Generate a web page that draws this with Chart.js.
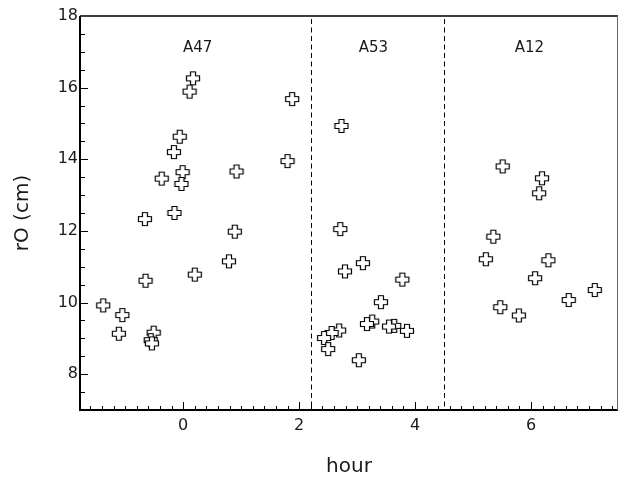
<!DOCTYPE html>
<html>
<head>
<meta charset="utf-8">
<script src="https://cdn.jsdelivr.net/npm/chart.js@4/dist/chart.umd.min.js"></script>
<style>
  html, body { margin: 0; padding: 0; background: #fff; }
  canvas { display: block; }
</style>
</head>
<body>
<canvas id="chart" width="619" height="477"></canvas>
<script>
// r0 measurements against hour, grouped by run
const a47Hours = [0.17, 0.11, 1.88, -0.06, -0.16, -0.01, -0.03, -0.37, 0.92, 1.80, -0.15, -0.66, 0.89, 0.79, 0.20, -0.65, -1.38, -1.05, -1.11, -0.51, -0.56, -0.54];
const a47R0 = [16.26, 15.89, 15.68, 14.63, 14.20, 13.64, 13.31, 13.46, 13.66, 13.95, 12.50, 12.33, 11.98, 11.15, 10.78, 10.61, 9.92, 9.65, 9.13, 9.16, 8.95, 8.86];

const a53Hours = [2.73, 2.71, 3.10, 2.79, 3.78, 3.41, 3.26, 3.17, 3.64, 3.55, 3.86, 2.69, 2.56, 2.43, 2.50, 3.03];
const a53R0 = [14.93, 12.05, 11.10, 10.87, 10.64, 10.01, 9.47, 9.40, 9.35, 9.33, 9.21, 9.22, 9.15, 9.01, 8.70, 8.39];

const a12Hours = [5.51, 6.19, 6.14, 5.35, 5.22, 6.30, 6.07, 7.10, 6.65, 5.47, 5.79];
const a12R0 = [13.80, 13.47, 13.05, 11.84, 11.21, 11.18, 10.68, 10.35, 10.07, 9.87, 9.64];

const groupNames = ['A47', 'A53', 'A12'];
const groupLabelHours = [0.25, 3.28, 5.97];
const groupLabelR0 = 17.11;
const groupBoundaries = [2.2, 4.5];

const xTicks = [0, 2, 4, 6];
const yTicks = [8, 10, 12, 14, 16, 18];

const FONT = '"DejaVu Sans", Verdana, sans-serif';
const INK = '#1a1a1a';

// outlined plus marker, white inside
function makePlus() {
  const c = document.createElement('canvas');
  c.width = 16; c.height = 16;
  const g = c.getContext('2d');
  const m = 8, L = 6.5, W = 2.5;
  g.beginPath();
  g.moveTo(m - W, m - L); g.lineTo(m + W, m - L); g.lineTo(m + W, m - W);
  g.lineTo(m + L, m - W); g.lineTo(m + L, m + W); g.lineTo(m + W, m + W);
  g.lineTo(m + W, m + L); g.lineTo(m - W, m + L); g.lineTo(m - W, m + W);
  g.lineTo(m - L, m + W); g.lineTo(m - L, m - W); g.lineTo(m - W, m - W);
  g.closePath();
  g.fillStyle = '#fff';
  g.fill();
  g.lineWidth = 1.2;
  g.strokeStyle = '#000';
  g.stroke();
  return c;
}
const plus = makePlus();

function toPoints(xs, ys) {
  return xs.map((x, i) => ({ x: x, y: ys[i] }));
}

// frame, inward ticks, dashed separators and run labels
const framePlugin = {
  id: 'frame',
  beforeDatasetsDraw(chart) {
    const ctx = chart.ctx;
    const a = chart.chartArea;
    const xs = chart.scales.x;
    const ys = chart.scales.y;
    ctx.save();

    // minor / major ticks on the left axis
    ctx.strokeStyle = '#000';
    ctx.lineWidth = 1;
    for (let v = 7.5; v < 18; v += 0.5) {
      const py = Math.round(ys.getPixelForValue(v)) + 0.5;
      const len = (v % 2 === 0) ? 8 : 5;
      ctx.beginPath();
      ctx.moveTo(a.left, py);
      ctx.lineTo(a.left + len, py);
      ctx.stroke();
    }
    // ticks on the bottom axis
    for (let k = -8; k <= 37; k++) {
      const v = k * 0.2;
      const px = Math.round(xs.getPixelForValue(v)) + 0.5;
      const len = (k % 10 === 0) ? 8 : 4;
      ctx.beginPath();
      ctx.moveTo(px, a.bottom);
      ctx.lineTo(px, a.bottom - len);
      ctx.stroke();
    }

    // dashed separators
    ctx.setLineDash([5, 3.5]);
    ctx.lineWidth = 1;
    groupBoundaries.forEach(b => {
      const px = Math.round(xs.getPixelForValue(b)) + 0.5;
      ctx.beginPath();
      ctx.moveTo(px, a.top + 3);
      ctx.lineTo(px, a.bottom);
      ctx.stroke();
    });
    ctx.setLineDash([]);

    // box
    ctx.strokeStyle = '#000';
    ctx.lineWidth = 2;
    ctx.beginPath();
    ctx.moveTo(a.left, a.top);
    ctx.lineTo(a.left, a.bottom);
    ctx.lineTo(a.right, a.bottom);
    ctx.stroke();
    ctx.lineWidth = 1.5;
    ctx.beginPath();
    ctx.moveTo(a.left, a.top);
    ctx.lineTo(a.right, a.top);
    ctx.stroke();
    ctx.strokeStyle = '#666';
    ctx.lineWidth = 1;
    ctx.beginPath();
    ctx.moveTo(a.right - 0.5, a.top);
    ctx.lineTo(a.right - 0.5, a.bottom);
    ctx.stroke();

    // run labels
    ctx.fillStyle = INK;
    ctx.font = '15px ' + FONT;
    ctx.textAlign = 'center';
    ctx.textBaseline = 'middle';
    groupNames.forEach((name, i) => {
      ctx.fillText(name, xs.getPixelForValue(groupLabelHours[i]), ys.getPixelForValue(groupLabelR0));
    });
    ctx.restore();
  }
};

const pointOpts = {
  pointStyle: plus,
  pointRadius: 8,
  showLine: false
};

new Chart(document.getElementById('chart'), {
  type: 'scatter',
  data: {
    datasets: [
      Object.assign({ label: 'A47', data: toPoints(a47Hours, a47R0) }, pointOpts),
      Object.assign({ label: 'A53', data: toPoints(a53Hours, a53R0) }, pointOpts),
      Object.assign({ label: 'A12', data: toPoints(a12Hours, a12R0) }, pointOpts)
    ]
  },
  options: {
    responsive: false,
    animation: false,
    layout: { autoPadding: false, padding: { top: 16, right: 1, left: 0, bottom: 0 } },
    plugins: {
      legend: { display: false },
      tooltip: { enabled: false }
    },
    scales: {
      x: {
        type: 'linear',
        min: -1.78,
        max: 7.5,
        grid: { display: false, drawTicks: false },
        border: { display: false },
        afterBuildTicks: s => { s.ticks = xTicks.map(v => ({ value: v })); },
        afterFit: s => { s.height = 67; },
        ticks: {
          font: { family: FONT, size: 16 },
          color: INK,
          padding: 6,
          maxRotation: 0
        },
        title: {
          display: true,
          text: 'hour',
          color: INK,
          font: { family: FONT, size: 20, lineHeight: 1 },
          padding: { top: 0, bottom: 0 }
        }
      },
      y: {
        type: 'linear',
        min: 7,
        max: 18,
        grid: { display: false, drawTicks: false },
        border: { display: false },
        afterBuildTicks: s => { s.ticks = yTicks.map(v => ({ value: v })); },
        afterFit: s => { s.width = 80; },
        ticks: {
          font: { family: FONT, size: 16 },
          color: INK,
          padding: 2
        },
        title: {
          display: true,
          text: 'rO (cm)',
          color: INK,
          font: { family: FONT, size: 20, lineHeight: 1 },
          padding: { top: 13, bottom: 0 }
        }
      }
    }
  },
  plugins: [framePlugin]
});
</script>
</body>
</html>
